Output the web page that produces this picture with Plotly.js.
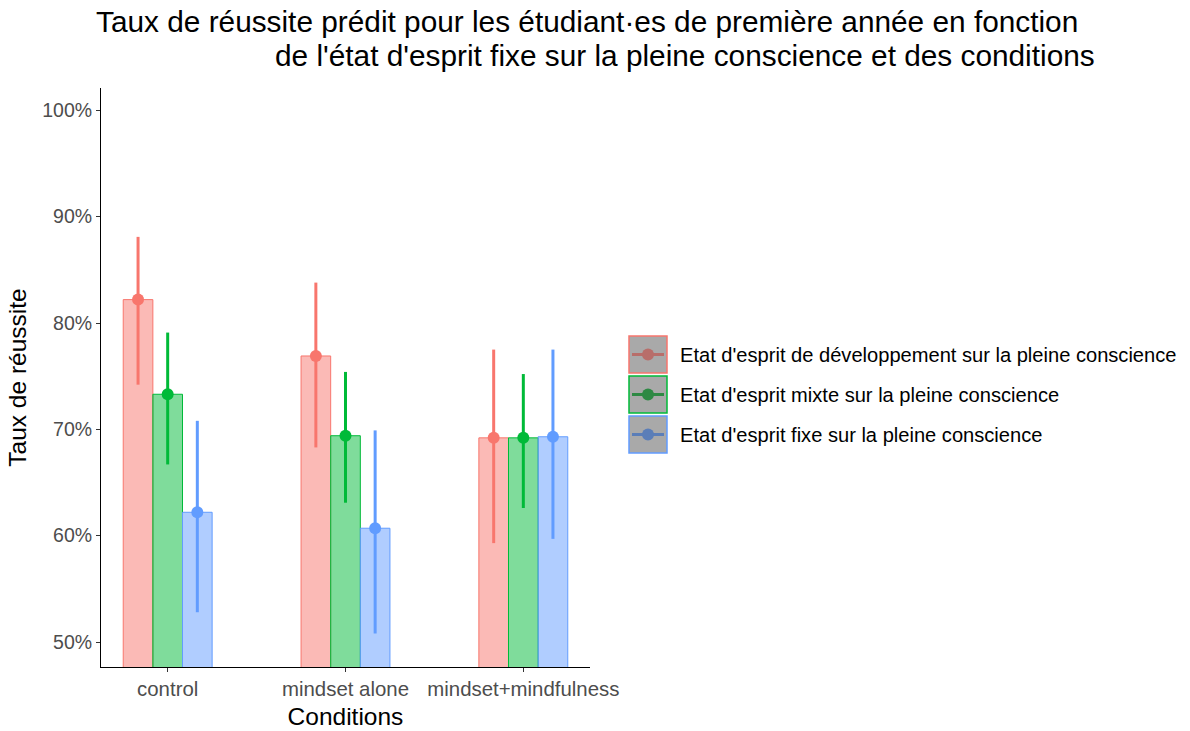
<!DOCTYPE html>
<html>
<head>
<meta charset="utf-8">
<script src="https://cdn.plot.ly/plotly-3.0.1.min.js"></script>
<style>html,body{margin:0;padding:0;background:#fff;}#chart{width:1190px;height:731px;}</style>
</head>
<body>
<div id="chart"></div>
<script>
// ---- data ----
const conditions = ['control', 'mindset alone', 'mindset+mindfulness'];
const groupNames = [
  "Etat d'esprit de développement sur la pleine conscience",
  "Etat d'esprit mixte sur la pleine conscience",
  "Etat d'esprit fixe sur la pleine conscience"
];
const rateDev  = [82.2, 76.9, 69.2];
const rateMix  = [73.3, 69.4, 69.2];
const rateFixe = [62.2, 60.7, 69.3];
const lowDev   = [74.2, 68.3, 59.3];
const lowMix   = [66.7, 63.1, 62.6];
const lowFixe  = [52.8, 50.8, 59.7];
const upDev    = [88.1, 83.8, 77.5];
const upMix    = [79.1, 75.4, 75.2];
const upFixe   = [70.8, 69.9, 77.5];
const yTicks   = [50, 60, 70, 80, 90, 100];
const yTickText = ['50%', '60%', '70%', '80%', '90%', '100%'];
const titleLine1 = 'Taux de réussite prédit pour les étudiant·es de première année en fonction';
const titleLine2 = "de l'état d'esprit fixe sur la pleine conscience et des conditions";

// ---- styling ----
const FONT = 'Liberation Sans, Arial, sans-serif';
const colors = ['#F8766D', '#00BA38', '#619CFF'];
const fills = ['rgba(248,118,109,0.5)', 'rgba(0,186,56,0.5)', 'rgba(97,156,255,0.5)'];
const keyLine = ['#B86E6A', '#2E8944', '#5B7EB8'];

const rates = [rateDev, rateMix, rateFixe];
const lows = [lowDev, lowMix, lowFixe];
const ups = [upDev, upMix, upFixe];

const traces = [];
for (let g = 0; g < 3; g++) {
  traces.push({
    type: 'bar', x: conditions, y: rates[g], name: groupNames[g],
    offsetgroup: String(g), showlegend: false,
    marker: {color: fills[g], line: {color: colors[g], width: 1}},
    hoverinfo: 'skip'
  });
}
for (let g = 0; g < 3; g++) {
  traces.push({
    type: 'scatter', mode: 'markers', x: conditions, y: rates[g], name: groupNames[g],
    offsetgroup: String(g), showlegend: false,
    marker: {color: colors[g], size: 12, symbol: 'circle'},
    error_y: {
      type: 'data', symmetric: false,
      array: rates[g].map((v, i) => ups[g][i] - v),
      arrayminus: rates[g].map((v, i) => v - lows[g][i]),
      width: 0, thickness: 3, color: colors[g]
    }
  });
}

// plot area in px
const L = 101, R = 590, T = 88, B = 667;
const W = R - L, H = B - T;
const px = x => (x - L) / W;
const py = y => (B - y) / H;

const shapes = [];
const annotations = [];
const keyTops = [336, 376, 416];
for (let g = 0; g < 3; g++) {
  const t = keyTops[g], b = t + 37, cy = (t + b) / 2;
  shapes.push({type: 'rect', xref: 'paper', yref: 'paper', x0: px(629), x1: px(667), y0: py(b), y1: py(t),
    fillcolor: '#A9A9A9', line: {color: colors[g], width: 1.5}, layer: 'above'});
  shapes.push({type: 'line', xref: 'paper', yref: 'paper', x0: px(632), x1: px(664), y0: py(cy), y1: py(cy),
    line: {color: keyLine[g], width: 3}, layer: 'above'});
  shapes.push({type: 'circle', xref: 'paper', yref: 'paper', x0: px(642), x1: px(654), y0: py(cy + 6), y1: py(cy - 6),
    fillcolor: keyLine[g], line: {width: 0}, layer: 'above'});
  annotations.push({xref: 'paper', yref: 'paper', x: px(678), y: py(cy), xanchor: 'left', yanchor: 'middle',
    showarrow: false, text: groupNames[g], font: {family: FONT, size: 20.1, color: '#000'}});
}
// second title line
annotations.push({xref: 'paper', yref: 'paper', x: px(273), y: py(55), xanchor: 'left', yanchor: 'middle',
  showarrow: false, text: titleLine2, font: {family: FONT, size: 29.8, color: '#000'}});

const layout = {
  width: 1190, height: 731,
  margin: {l: L, r: 1190 - R, t: T, b: 731 - B, pad: 0},
  paper_bgcolor: '#fff', plot_bgcolor: '#fff',
  font: {family: FONT},
  title: {
    text: titleLine1,
    x: 96 / 1190, xanchor: 'left', xref: 'container',
    y: 1 - 22 / 731, yanchor: 'middle', yref: 'container',
    font: {size: 29.8, color: '#000', family: FONT}
  },
  barmode: 'group', bargap: 0.5, bargroupgap: 0,
  scattermode: 'group', scattergap: 0.5,
  showlegend: false,
  xaxis: {
    type: 'category', range: [-0.375, 2.375],
    showline: true, linecolor: '#000', linewidth: 1,
    ticks: 'outside', ticklen: 4, tickcolor: '#333', tickwidth: 1,
    tickfont: {size: 20.4, color: '#4D4D4D'},
    showgrid: false, zeroline: false, fixedrange: true,
    title: {text: 'Conditions', font: {size: 24.5, color: '#000'}, standoff: 8}
  },
  yaxis: {
    range: [47.65, 102.1], tickvals: yTicks, ticktext: yTickText,
    showline: true, linecolor: '#000', linewidth: 1,
    ticks: 'outside', ticklen: 4, tickcolor: '#333', tickwidth: 1,
    tickfont: {size: 19.5, color: '#4D4D4D'},
    showgrid: false, zeroline: false, fixedrange: true,
    title: {text: 'Taux de réussite', font: {size: 24.5, color: '#000'}, standoff: 8}
  },
  shapes: shapes,
  annotations: annotations
};

Plotly.newPlot('chart', traces, layout, {displayModeBar: false, staticPlot: true});
</script>
</body>
</html>
